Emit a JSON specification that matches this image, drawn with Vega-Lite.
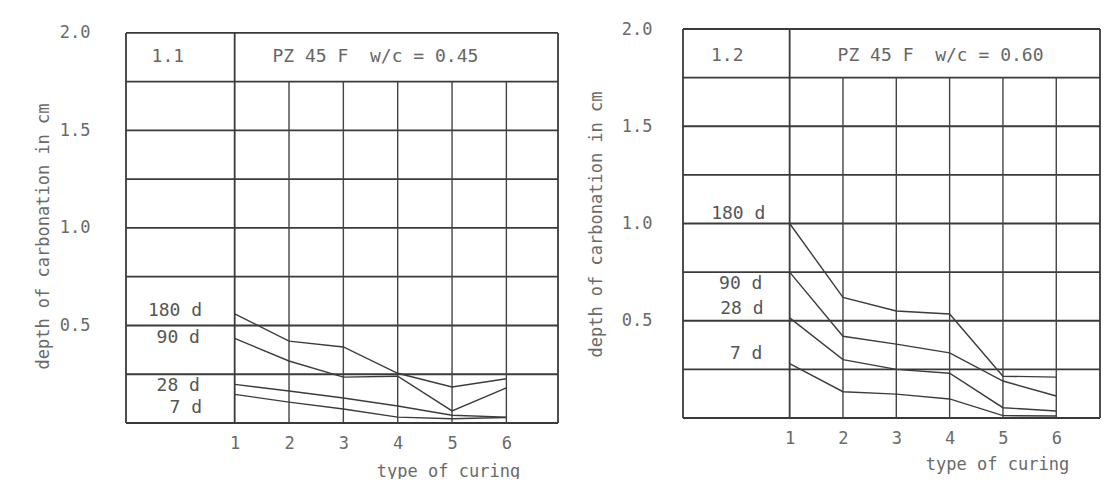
{
  "$schema": "https://vega.github.io/schema/vega-lite/v6.json",
  "background": "white",
  "padding": {"left": 34, "top": 20, "right": 0, "bottom": 0},
  "spacing": 28,
  "config": {
    "view": {"stroke": null},
    "font": "DejaVu Sans Mono",
    "axis": {"labelFont": "DejaVu Sans Mono", "titleFont": "DejaVu Sans Mono", "labelColor": "#6a6a6a", "titleColor": "#6a6a6a", "titleFontWeight": "normal", "domain": false, "ticks": false, "grid": false}
  },
  "datasets": {
    "gridL": [
      {"x": -1, "x2": 6.95, "y": 0, "y2": 0},
      {"x": -1, "x2": 6.95, "y": 0.25, "y2": 0.25},
      {"x": -1, "x2": 6.95, "y": 0.5, "y2": 0.5},
      {"x": -1, "x2": 6.95, "y": 0.75, "y2": 0.75},
      {"x": -1, "x2": 6.95, "y": 1.0, "y2": 1.0},
      {"x": -1, "x2": 6.95, "y": 1.25, "y2": 1.25},
      {"x": -1, "x2": 6.95, "y": 1.5, "y2": 1.5},
      {"x": -1, "x2": 6.95, "y": 1.75, "y2": 1.75},
      {"x": -1, "x2": 6.95, "y": 2.0, "y2": 2.0},
      {"x": -1, "x2": -1, "y": 0, "y2": 2.0},
      {"x": 6.95, "x2": 6.95, "y": 0, "y2": 2.0},
      {"x": 1, "x2": 1, "y": 0, "y2": 2.0}
    ],
    "vgridL": [
      {"x": 2, "x2": 2, "y": 0, "y2": 1.75},
      {"x": 3, "x2": 3, "y": 0, "y2": 1.75},
      {"x": 4, "x2": 4, "y": 0, "y2": 1.75},
      {"x": 5, "x2": 5, "y": 0, "y2": 1.75},
      {"x": 6, "x2": 6, "y": 0, "y2": 1.75}
    ],
    "gridR": [
      {"x": -1, "x2": 6.82, "y": 0, "y2": 0},
      {"x": -1, "x2": 6.82, "y": 0.25, "y2": 0.25},
      {"x": -1, "x2": 6.82, "y": 0.5, "y2": 0.5},
      {"x": -1, "x2": 6.82, "y": 0.75, "y2": 0.75},
      {"x": -1, "x2": 6.82, "y": 1.0, "y2": 1.0},
      {"x": -1, "x2": 6.82, "y": 1.25, "y2": 1.25},
      {"x": -1, "x2": 6.82, "y": 1.5, "y2": 1.5},
      {"x": -1, "x2": 6.82, "y": 1.75, "y2": 1.75},
      {"x": -1, "x2": 6.82, "y": 2.0, "y2": 2.0},
      {"x": -1, "x2": -1, "y": 0, "y2": 2.0},
      {"x": 6.82, "x2": 6.82, "y": 0, "y2": 2.0},
      {"x": 1, "x2": 1, "y": 0, "y2": 2.0}
    ],
    "vgridR": [
      {"x": 2, "x2": 2, "y": 0, "y2": 1.75},
      {"x": 3, "x2": 3, "y": 0, "y2": 1.75},
      {"x": 4, "x2": 4, "y": 0, "y2": 1.75},
      {"x": 5, "x2": 5, "y": 0, "y2": 1.75},
      {"x": 6, "x2": 6, "y": 0, "y2": 1.75}
    ],
    "seriesL": [
      {"age": "180 d", "curing": 1, "depth": 0.56},
      {"age": "180 d", "curing": 2, "depth": 0.42},
      {"age": "180 d", "curing": 3, "depth": 0.39},
      {"age": "180 d", "curing": 4, "depth": 0.255},
      {"age": "180 d", "curing": 5, "depth": 0.185},
      {"age": "180 d", "curing": 6, "depth": 0.227},
      {"age": "90 d", "curing": 1, "depth": 0.434},
      {"age": "90 d", "curing": 2, "depth": 0.318},
      {"age": "90 d", "curing": 3, "depth": 0.235},
      {"age": "90 d", "curing": 4, "depth": 0.24},
      {"age": "90 d", "curing": 5, "depth": 0.062},
      {"age": "90 d", "curing": 6, "depth": 0.18},
      {"age": "28 d", "curing": 1, "depth": 0.198},
      {"age": "28 d", "curing": 2, "depth": 0.164},
      {"age": "28 d", "curing": 3, "depth": 0.128},
      {"age": "28 d", "curing": 4, "depth": 0.087},
      {"age": "28 d", "curing": 5, "depth": 0.04},
      {"age": "28 d", "curing": 6, "depth": 0.03},
      {"age": "7 d", "curing": 1, "depth": 0.147},
      {"age": "7 d", "curing": 2, "depth": 0.107},
      {"age": "7 d", "curing": 3, "depth": 0.072},
      {"age": "7 d", "curing": 4, "depth": 0.03},
      {"age": "7 d", "curing": 5, "depth": 0.022},
      {"age": "7 d", "curing": 6, "depth": 0.028}
    ],
    "seriesR": [
      {"age": "180 d", "curing": 1, "depth": 1.0},
      {"age": "180 d", "curing": 2, "depth": 0.62},
      {"age": "180 d", "curing": 3, "depth": 0.55},
      {"age": "180 d", "curing": 4, "depth": 0.535},
      {"age": "180 d", "curing": 5, "depth": 0.215},
      {"age": "180 d", "curing": 6, "depth": 0.21},
      {"age": "90 d", "curing": 1, "depth": 0.75},
      {"age": "90 d", "curing": 2, "depth": 0.42},
      {"age": "90 d", "curing": 3, "depth": 0.38},
      {"age": "90 d", "curing": 4, "depth": 0.335},
      {"age": "90 d", "curing": 5, "depth": 0.19},
      {"age": "90 d", "curing": 6, "depth": 0.113},
      {"age": "28 d", "curing": 1, "depth": 0.515},
      {"age": "28 d", "curing": 2, "depth": 0.3},
      {"age": "28 d", "curing": 3, "depth": 0.25},
      {"age": "28 d", "curing": 4, "depth": 0.23},
      {"age": "28 d", "curing": 5, "depth": 0.053},
      {"age": "28 d", "curing": 6, "depth": 0.036},
      {"age": "7 d", "curing": 1, "depth": 0.28},
      {"age": "7 d", "curing": 2, "depth": 0.135},
      {"age": "7 d", "curing": 3, "depth": 0.123},
      {"age": "7 d", "curing": 4, "depth": 0.098},
      {"age": "7 d", "curing": 5, "depth": 0.012},
      {"age": "7 d", "curing": 6, "depth": 0.01}
    ],
    "labelsL": [
      {"x": 0.40, "y": 0.574, "text": "180 d"},
      {"x": 0.36, "y": 0.436, "text": "90 d"},
      {"x": 0.36, "y": 0.19, "text": "28 d"},
      {"x": 0.40, "y": 0.077, "text": "7 d"}
    ],
    "headL": [
      {"x": -0.23, "y": 1.875, "text": "1.1"},
      {"x": 3.59, "y": 1.875, "text": "PZ 45 F\u00a0\u00a0w/c = 0.45"}
    ],
    "labelsR": [
      {"x": 0.545, "y": 1.05, "text": "180 d"},
      {"x": 0.49, "y": 0.69, "text": "90 d"},
      {"x": 0.51, "y": 0.56, "text": "28 d"},
      {"x": 0.49, "y": 0.33, "text": "7 d"}
    ],
    "headR": [
      {"x": -0.17, "y": 1.86, "text": "1.2"},
      {"x": 3.83, "y": 1.86, "text": "PZ 45 F\u00a0\u00a0w/c = 0.60"}
    ]
  },
  "hconcat": [
    {
      "width": 432,
      "height": 394,
      "layer": [
        {
          "data": {"name": "gridL"},
          "mark": {"type": "rule", "color": "#3a3a3a", "strokeWidth": 1.8},
          "encoding": {
            "x": {"field": "x", "type": "quantitative", "scale": {"domain": [-1, 6.95], "nice": false, "zero": false},
              "axis": {"values": [1, 2, 3, 4, 5, 6], "labelFontSize": 17, "labelPadding": 12, "title": "type of curing", "titleFontSize": 17, "titleX": 322, "titleY": 48, "titleBaseline": "middle", "titleAlign": "center"}},
            "x2": {"field": "x2"},
            "y": {"field": "y", "type": "quantitative", "scale": {"domain": [0, 2.02], "nice": false},
              "axis": {"values": [0.5, 1.0, 1.5, 2.0], "format": ".1f", "labelFontSize": 17, "labelPadding": 36, "title": "depth of carbonation in cm", "titleFontSize": 17, "titleX": -83, "titleY": 207, "titleAngle": 270, "titleBaseline": "middle", "titleAlign": "center"}},
            "y2": {"field": "y2"}
          }
        },
        {
          "data": {"name": "vgridL"},
          "mark": {"type": "rule", "color": "#444444", "strokeWidth": 1.4},
          "encoding": {
            "x": {"field": "x", "type": "quantitative"},
            "x2": {"field": "x2"},
            "y": {"field": "y", "type": "quantitative"},
            "y2": {"field": "y2"}
          }
        },
        {
          "data": {"name": "seriesL"},
          "mark": {"type": "line", "color": "#3c3c3c", "strokeWidth": 1.4},
          "encoding": {
            "x": {"field": "curing", "type": "quantitative"},
            "y": {"field": "depth", "type": "quantitative"},
            "detail": {"field": "age", "type": "nominal"}
          }
        },
        {
          "data": {"name": "labelsL"},
          "mark": {"type": "text", "align": "right", "baseline": "middle", "fontSize": 18, "color": "#555555", "font": "DejaVu Sans Mono"},
          "encoding": {
            "x": {"field": "x", "type": "quantitative"},
            "y": {"field": "y", "type": "quantitative"},
            "text": {"field": "text"}
          }
        },
        {
          "data": {"name": "headL"},
          "mark": {"type": "text", "align": "center", "baseline": "middle", "fontSize": 18, "color": "#666666", "font": "DejaVu Sans Mono"},
          "encoding": {
            "x": {"field": "x", "type": "quantitative"},
            "y": {"field": "y", "type": "quantitative"},
            "text": {"field": "text"}
          }
        }
      ]
    },
    {
      "width": 417,
      "height": 389,
      "layer": [
        {
          "data": {"name": "gridR"},
          "mark": {"type": "rule", "color": "#3a3a3a", "strokeWidth": 1.8},
          "encoding": {
            "x": {"field": "x", "type": "quantitative", "scale": {"domain": [-1, 6.82], "nice": false, "zero": false},
              "axis": {"values": [1, 2, 3, 4, 5, 6], "labelFontSize": 17, "labelPadding": 12, "title": "type of curing", "titleFontSize": 17, "titleX": 314, "titleY": 46, "titleBaseline": "middle", "titleAlign": "center"}},
            "x2": {"field": "x2"},
            "y": {"field": "y", "type": "quantitative", "scale": {"domain": [0, 2.0], "nice": false},
              "axis": {"values": [0.5, 1.0, 1.5, 2.0], "format": ".1f", "labelFontSize": 17, "labelPadding": 31, "title": "depth of carbonation in cm", "titleFontSize": 17, "titleX": -87, "titleY": 195, "titleAngle": 270, "titleBaseline": "middle", "titleAlign": "center"}},
            "y2": {"field": "y2"}
          }
        },
        {
          "data": {"name": "vgridR"},
          "mark": {"type": "rule", "color": "#444444", "strokeWidth": 1.4},
          "encoding": {
            "x": {"field": "x", "type": "quantitative"},
            "x2": {"field": "x2"},
            "y": {"field": "y", "type": "quantitative"},
            "y2": {"field": "y2"}
          }
        },
        {
          "data": {"name": "seriesR"},
          "mark": {"type": "line", "color": "#3c3c3c", "strokeWidth": 1.4},
          "encoding": {
            "x": {"field": "curing", "type": "quantitative"},
            "y": {"field": "depth", "type": "quantitative"},
            "detail": {"field": "age", "type": "nominal"}
          }
        },
        {
          "data": {"name": "labelsR"},
          "mark": {"type": "text", "align": "right", "baseline": "middle", "fontSize": 18, "color": "#555555", "font": "DejaVu Sans Mono"},
          "encoding": {
            "x": {"field": "x", "type": "quantitative"},
            "y": {"field": "y", "type": "quantitative"},
            "text": {"field": "text"}
          }
        },
        {
          "data": {"name": "headR"},
          "mark": {"type": "text", "align": "center", "baseline": "middle", "fontSize": 18, "color": "#666666", "font": "DejaVu Sans Mono"},
          "encoding": {
            "x": {"field": "x", "type": "quantitative"},
            "y": {"field": "y", "type": "quantitative"},
            "text": {"field": "text"}
          }
        }
      ]
    }
  ]
}
